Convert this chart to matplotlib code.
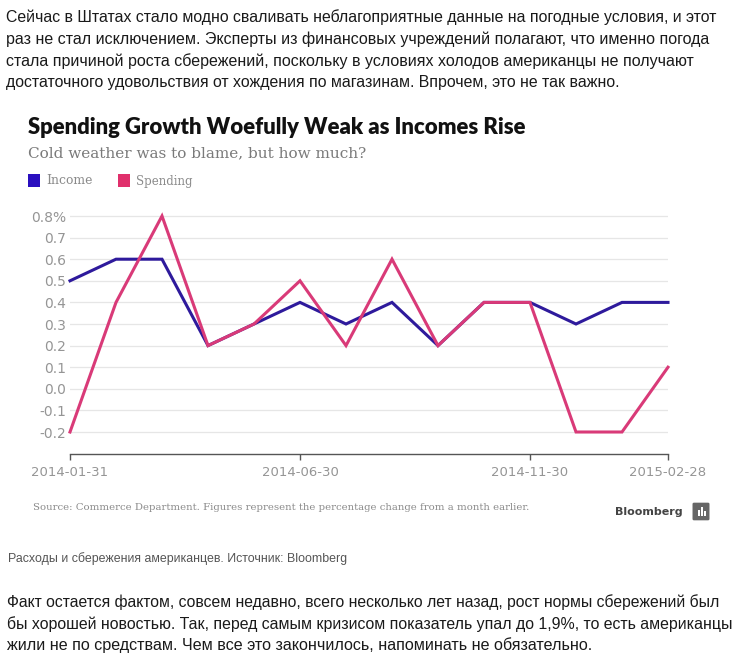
import matplotlib
matplotlib.use("Agg")
import matplotlib.pyplot as plt
from matplotlib.patches import Rectangle, FancyBboxPatch
import numpy as np

W, H = 738, 665

# data (monthly % change)
months = ["2014-01-31", "2014-02-28", "2014-03-31", "2014-04-30", "2014-05-31",
          "2014-06-30", "2014-07-31", "2014-08-31", "2014-09-30", "2014-10-31",
          "2014-11-30", "2014-12-31", "2015-01-31", "2015-02-28"]
income = [0.5, 0.6, 0.6, 0.2, 0.3, 0.4, 0.3, 0.4, 0.2, 0.4, 0.4, 0.3, 0.4, 0.4]
spending = [-0.2, 0.4, 0.8, 0.2, 0.3, 0.5, 0.2, 0.6, 0.2, 0.4, 0.4, -0.2, -0.2, 0.1]
shown_dates = ["2014-01-31", "2014-06-30", "2014-11-30", "2015-02-28"]
y_ticks = [-0.2, -0.1, 0.0, 0.1, 0.2, 0.3, 0.4, 0.5, 0.6, 0.7, 0.8]

top_par = [
    "Сейчас в Штатах стало модно сваливать неблагоприятные данные на погодные условия, и этот",
    "раз не стал исключением. Эксперты из финансовых учреждений полагают, что именно погода",
    "стала причиной роста сбережений, поскольку в условиях холодов американцы не получают",
    "достаточного удовольствия от хождения по магазинам. Впрочем, это не так важно.",
]
bottom_par = [
    "Факт остается фактом, совсем недавно, всего несколько лет назад, рост нормы сбережений был",
    "бы хорошей новостью. Так, перед самым кризисом показатель упал до 1,9%, то есть американцы",
    "жили не по средствам. Чем все это закончилось, напоминать не обязательно.",
]

INCOME_C = "#2e1a9c"
SPEND_C = "#d93a78"

fig = plt.figure(figsize=(W / 100, H / 100), dpi=100)
fig.patch.set_facecolor("white")
renderer = fig.canvas.get_renderer()


def px(x, y):
    return x / W, 1 - y / H


def fit_text(x, y, s, width, **kw):
    # draw text and scale its size so it spans `width` pixels
    t = fig.text(*px(x, y), s, va="center", ha="left", **kw)
    bb = t.get_window_extent(renderer)
    t.set_fontsize(t.get_fontsize() * width / bb.width)
    return t


# article text above and below
body = dict(family="Liberation Sans", color="#1a1a1a", fontsize=11)
for s, y, w in zip(top_par, [17, 39, 61, 83], [711, 698, 684, 613]):
    fit_text(6, y, s, w, **body)
for s, y, w in zip(bottom_par, [602, 624, 645], [713, 723, 585]):
    fit_text(7, y, s, w, **body)
fit_text(8, 559, "Расходы и сбережения американцев. Источник: Bloomberg", 339,
         family="Liberation Sans", color="#555555", fontsize=9)

# chart header
fit_text(28, 127, "Spending Growth Woefully Weak as Incomes Rise", 503,
         family="Lato", weight="heavy", color="#111111", fontsize=15)
fit_text(28, 153, "Cold weather was to blame, but how much?", 338,
         family="DejaVu Serif", color="#7a7a7a", fontsize=11)

# legend
for x0, label, c, w in [(28, "Income", "#2a0fbf", 46), (118, "Spending", "#e0306c", 57)]:
    fig.patches.append(Rectangle(px(x0, 187), 12 / W, 13 / H, transform=fig.transFigure,
                                 facecolor=c, edgecolor="none"))
    fit_text(x0 + 18, 181, label, w, family="DejaVu Serif", color="#8a8a8a", fontsize=9)

# plot area: x 0..13 -> 70..668 px, y 0.8 -> 216 px, -0.2 -> 432 px
ppu = 216.0
ylo, yhi = -0.25, 0.85
top_px = 216 - (yhi - 0.8) * ppu
bot_px = 432 + (-0.2 - ylo) * ppu
ax = fig.add_axes([70 / W, 1 - bot_px / H, 598 / W, (bot_px - top_px) / H])
x = np.arange(len(months))
ax.plot(x, income, color=INCOME_C, lw=2.2, solid_joinstyle="miter", clip_on=False, zorder=3)
ax.plot(x, spending, color=SPEND_C, lw=2.2, solid_joinstyle="miter", clip_on=False, zorder=4)
ax.set_xlim(0, len(months) - 1)
ax.set_ylim(ylo, yhi)

ax.set_yticks(y_ticks)
ax.set_yticklabels([f"{v:.1f}%" if v == max(y_ticks) else f"{v:.1f}" for v in y_ticks])
ax.grid(axis="y", color="#e6e6e6", lw=0.9)
ax.set_axisbelow(True)
ax.tick_params(axis="y", length=0, pad=3, labelsize=10, labelcolor="#959595")

ax.set_xticks([months.index(d) for d in shown_dates])
ax.set_xticklabels(shown_dates)
ax.tick_params(axis="x", direction="out", length=4.5, width=1, color="#555555",
               pad=4, labelsize=9.5, labelcolor="#959595")
for side in ["top", "right", "left"]:
    ax.spines[side].set_visible(False)
ax.spines["bottom"].set_position(("outward", (454 - bot_px) * 0.72))
ax.spines["bottom"].set_color("#555555")
ax.spines["bottom"].set_linewidth(1)
for lab in ax.get_xticklabels() + ax.get_yticklabels():
    lab.set_family("DejaVu Sans")

# footer
fit_text(33, 508, "Source: Commerce Department. Figures represent the percentage change from a month earlier.",
         499, family="DejaVu Serif", color="#8a8a8a", fontsize=7)
fit_text(615, 512, "Bloomberg", 68, family="DejaVu Sans", weight="bold", color="#444444", fontsize=9)
fig.patches.append(FancyBboxPatch(px(694, 519), 14 / W, 15 / H, boxstyle="round,pad=0.002",
                                  transform=fig.transFigure, facecolor="#666666", edgecolor="none"))
for bx, bh in [(697.5, 6), (700.5, 9), (703.5, 5)]:
    fig.patches.append(Rectangle(px(bx, 516), 2 / W, bh / H, transform=fig.transFigure,
                                 facecolor="white", edgecolor="none"))

fig.savefig("out.png", dpi=100, facecolor="white")
